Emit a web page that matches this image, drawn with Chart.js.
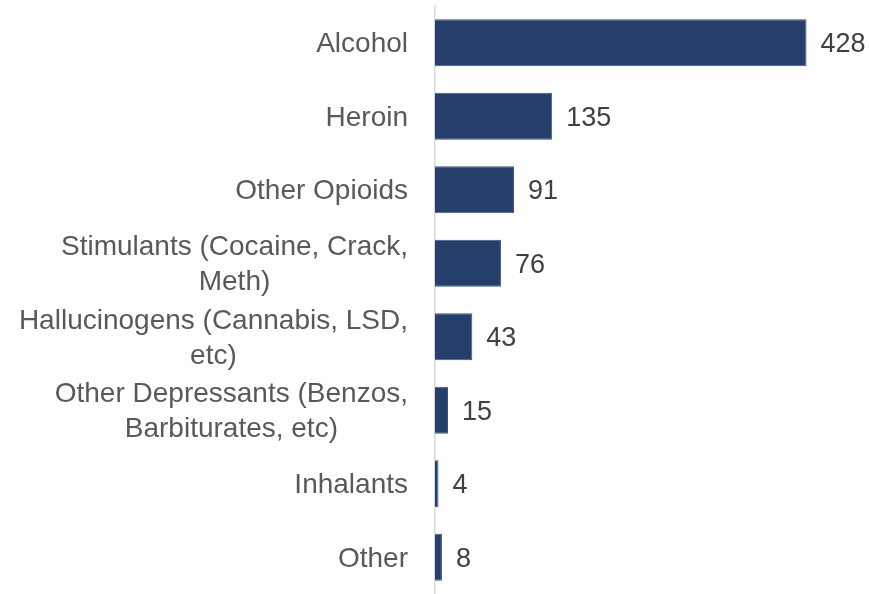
<!DOCTYPE html>
<html>
<head>
<meta charset="utf-8">
<script src="https://cdn.jsdelivr.net/npm/chart.js@4"></script>
<style>
  html, body { margin: 0; padding: 0; background: #fff; overflow: hidden; }
  #wrap { width: 869px; height: 594px; }
</style>
</head>
<body>
<div id="wrap"><canvas id="myChart"></canvas></div>
<script>
const categories = [
  'Alcohol',
  'Heroin',
  'Other Opioids',
  ['Stimulants (Cocaine, Crack,', 'Meth)'],
  ['Hallucinogens (Cannabis, LSD,', 'etc)'],
  ['Other Depressants (Benzos,', 'Barbiturates, etc)'],
  'Inhalants',
  'Other'
];
const counts = [428, 135, 91, 76, 43, 15, 4, 8];

const FONT = '"Liberation Sans", Arial, sans-serif';

// value labels at bar ends + category labels with centred line wrapping
const drawLabels = {
  id: 'drawLabels',
  afterDatasetsDraw(chart) {
    const ctx = chart.ctx;
    const meta = chart.getDatasetMeta(0);
    const yScale = chart.scales.y;
    ctx.save();
    ctx.textBaseline = 'middle';

    ctx.font = '27px ' + FONT;
    ctx.fillStyle = '#404040';
    ctx.textAlign = 'left';
    meta.data.forEach((bar, i) => {
      ctx.fillText(String(counts[i]), bar.x + 14, bar.y + 2);
    });

    ctx.font = '28px ' + FONT;
    ctx.fillStyle = '#595959';
    ctx.textAlign = 'center';
    const right = yScale.right - 27;
    const lineH = 35;
    categories.forEach((label, i) => {
      const lines = Array.isArray(label) ? label : [label];
      const w = Math.max(...lines.map(l => ctx.measureText(l).width));
      const cx = right - w / 2;
      const cy = yScale.getPixelForTick(i) + 2;
      const top = cy - (lines.length - 1) * lineH / 2;
      lines.forEach((l, j) => ctx.fillText(l, cx, top + j * lineH));
    });
    ctx.restore();
  }
};

const ctx = document.getElementById('myChart').getContext('2d');
const myChart = new Chart(ctx, {
  type: 'bar',
  data: {
    labels: categories,
    datasets: [{
      data: counts,
      backgroundColor: '#263f6a',
      borderColor: '#3a5584',
      borderWidth: 1,
      barPercentage: 0.64,
      categoryPercentage: 1
    }]
  },
  options: {
    indexAxis: 'y',
    animation: false,
    responsive: true,
    maintainAspectRatio: false,
    layout: { padding: { top: 6, right: 0, bottom: 0, left: 0 } },
    scales: {
      x: {
        display: false,
        min: 0,
        max: 500
      },
      y: {
        afterFit: scale => {
          scale.width = 435;
          scale.paddingTop = 0;
          scale.paddingBottom = 0;
        },
        grid: { display: false, drawTicks: false },
        border: { display: true, color: '#d9d9d9', width: 1.5 },
        ticks: { display: false }
      }
    },
    plugins: {
      legend: { display: false },
      tooltip: { enabled: false }
    }
  },
  plugins: [drawLabels]
});
</script>
</body>
</html>
